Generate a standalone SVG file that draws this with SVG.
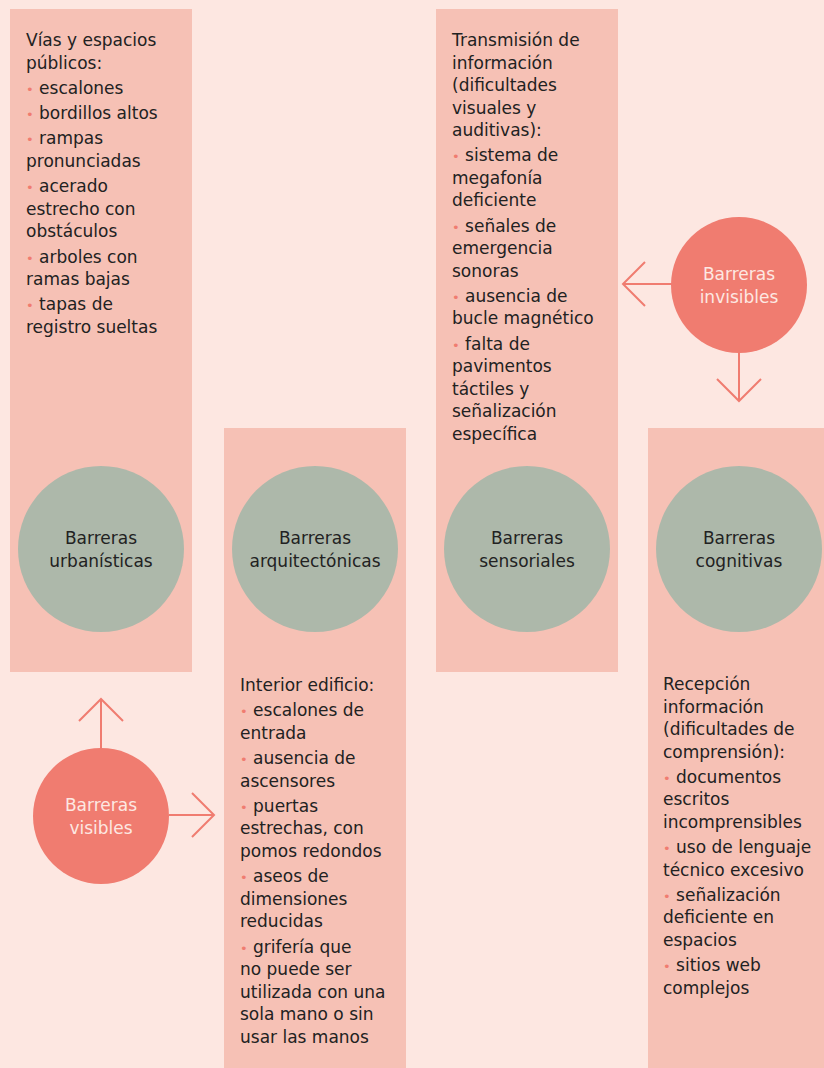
<svg xmlns="http://www.w3.org/2000/svg" width="824" height="1068" viewBox="0 0 824 1068">
<style>
.col{fill:#f6c1b5}
.gc{fill:#adb8aa}
.rc{fill:#f07c70}
.t{font-family:"DejaVu Sans","Liberation Sans",sans-serif;font-size:17px;fill:#222}
.ct{font-family:"DejaVu Sans","Liberation Sans",sans-serif;font-size:17px;fill:#222;text-anchor:middle}
.wt{font-family:"DejaVu Sans","Liberation Sans",sans-serif;font-size:17px;fill:#fde8e2;text-anchor:middle}
.b{fill:#f07c70;font-size:13px}
.ar{fill:none;stroke:#f07c70;stroke-width:2}
</style>
<rect width="824" height="1068" fill="#fde7e1"/>
<g id="col-urbanisticas">
<rect class="col" x="10" y="9" width="182" height="663"/>
<text class="t" x="26">
<tspan x="26" y="46">Vías y espacios</tspan>
<tspan x="26" y="68.5">públicos:</tspan>
<tspan x="26" y="93.8"><tspan class="b">•</tspan> escalones</tspan>
<tspan x="26" y="119.1"><tspan class="b">•</tspan> bordillos altos</tspan>
<tspan x="26" y="144.4"><tspan class="b">•</tspan> rampas</tspan>
<tspan x="26" y="166.9">pronunciadas</tspan>
<tspan x="26" y="192.2"><tspan class="b">•</tspan> acerado</tspan>
<tspan x="26" y="214.7">estrecho con</tspan>
<tspan x="26" y="237.2">obstáculos</tspan>
<tspan x="26" y="262.5"><tspan class="b">•</tspan> arboles con</tspan>
<tspan x="26" y="285">ramas bajas</tspan>
<tspan x="26" y="310.3"><tspan class="b">•</tspan> tapas de</tspan>
<tspan x="26" y="332.8">registro sueltas</tspan>
</text>
<circle class="gc" cx="101" cy="549" r="83"/>
<text class="ct"><tspan x="101" y="544">Barreras</tspan><tspan x="101" y="567">urbanísticas</tspan></text>
</g>
<g id="col-arquitectonicas">
<rect class="col" x="224" y="428" width="182" height="640"/>
<circle class="gc" cx="315" cy="549" r="83"/>
<text class="ct"><tspan x="315" y="544">Barreras</tspan><tspan x="315" y="567">arquitectónicas</tspan></text>
<text class="t">
<tspan x="240" y="691">Interior edificio:</tspan>
<tspan x="240" y="716.3"><tspan class="b">•</tspan> escalones de</tspan>
<tspan x="240" y="738.8">entrada</tspan>
<tspan x="240" y="764.1"><tspan class="b">•</tspan> ausencia de</tspan>
<tspan x="240" y="786.6">ascensores</tspan>
<tspan x="240" y="811.9"><tspan class="b">•</tspan> puertas</tspan>
<tspan x="240" y="834.4">estrechas, con</tspan>
<tspan x="240" y="856.9">pomos redondos</tspan>
<tspan x="240" y="882.2"><tspan class="b">•</tspan> aseos de</tspan>
<tspan x="240" y="904.7">dimensiones</tspan>
<tspan x="240" y="927.2">reducidas</tspan>
<tspan x="240" y="952.5"><tspan class="b">•</tspan> grifería que</tspan>
<tspan x="240" y="975">no puede ser</tspan>
<tspan x="240" y="997.5">utilizada con una</tspan>
<tspan x="240" y="1020">sola mano o sin</tspan>
<tspan x="240" y="1042.5">usar las manos</tspan>
</text>
</g>
<g id="col-sensoriales">
<rect class="col" x="436" y="9" width="182" height="663"/>
<text class="t">
<tspan x="452" y="46">Transmisión de</tspan>
<tspan x="452" y="68.5">información</tspan>
<tspan x="452" y="91">(dificultades</tspan>
<tspan x="452" y="113.5">visuales y</tspan>
<tspan x="452" y="136">auditivas):</tspan>
<tspan x="452" y="161.3"><tspan class="b">•</tspan> sistema de</tspan>
<tspan x="452" y="183.8">megafonía</tspan>
<tspan x="452" y="206.3">deficiente</tspan>
<tspan x="452" y="231.6"><tspan class="b">•</tspan> señales de</tspan>
<tspan x="452" y="254.1">emergencia</tspan>
<tspan x="452" y="276.6">sonoras</tspan>
<tspan x="452" y="301.9"><tspan class="b">•</tspan> ausencia de</tspan>
<tspan x="452" y="324.4">bucle magnético</tspan>
<tspan x="452" y="349.7"><tspan class="b">•</tspan> falta de</tspan>
<tspan x="452" y="372.2">pavimentos</tspan>
<tspan x="452" y="394.7">táctiles y</tspan>
<tspan x="452" y="417.2">señalización</tspan>
<tspan x="452" y="439.7">específica</tspan>
</text>
<circle class="gc" cx="527" cy="549" r="83"/>
<text class="ct"><tspan x="527" y="544">Barreras</tspan><tspan x="527" y="567">sensoriales</tspan></text>
</g>
<g id="col-cognitivas">
<rect class="col" x="648" y="428" width="182" height="640"/>
<circle class="gc" cx="739" cy="549" r="83"/>
<text class="ct"><tspan x="739" y="544">Barreras</tspan><tspan x="739" y="567">cognitivas</tspan></text>
<text class="t">
<tspan x="663" y="690">Recepción</tspan>
<tspan x="663" y="712.5">información</tspan>
<tspan x="663" y="735">(dificultades de</tspan>
<tspan x="663" y="757.5">comprensión):</tspan>
<tspan x="663" y="782.8"><tspan class="b">•</tspan> documentos</tspan>
<tspan x="663" y="805.3">escritos</tspan>
<tspan x="663" y="827.8">incomprensibles</tspan>
<tspan x="663" y="853.1"><tspan class="b">•</tspan> uso de lenguaje</tspan>
<tspan x="663" y="875.6">técnico excesivo</tspan>
<tspan x="663" y="900.9"><tspan class="b">•</tspan> señalización</tspan>
<tspan x="663" y="923.4">deficiente en</tspan>
<tspan x="663" y="945.9">espacios</tspan>
<tspan x="663" y="971.2"><tspan class="b">•</tspan> sitios web</tspan>
<tspan x="663" y="993.7">complejos</tspan>
</text>
</g>
<g id="connectors">
<path class="ar" d="M101 749V700M79 721L101 699L123 721"/>
<path class="ar" d="M169 815H213M192 793L214 815L192 837"/>
<path class="ar" d="M672 284H624M645 262L623 284L645 306"/>
<path class="ar" d="M739 352V400M717 379L739 401L761 379"/>
</g>
<g id="visibles">
<circle class="rc" cx="101" cy="816" r="68"/>
<text class="wt"><tspan x="101" y="811">Barreras</tspan><tspan x="101" y="834">visibles</tspan></text>
</g>
<g id="invisibles">
<circle class="rc" cx="739" cy="285" r="68"/>
<text class="wt"><tspan x="739" y="280">Barreras</tspan><tspan x="739" y="303">invisibles</tspan></text>
</g>
</svg>
